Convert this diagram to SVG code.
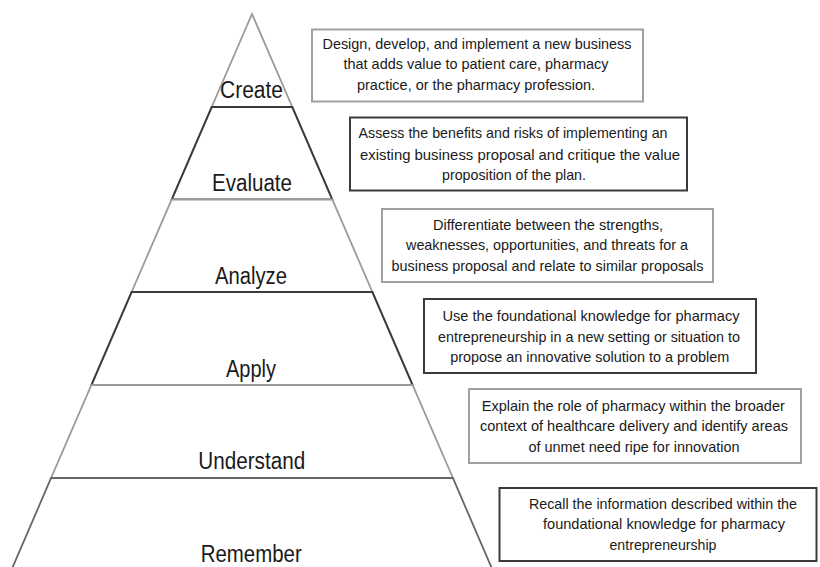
<svg xmlns="http://www.w3.org/2000/svg" width="820" height="567" viewBox="0 0 820 567">
<style>
.lvl{fill:#fff;stroke-linejoin:miter}
.lg{stroke:#9a9a9a;stroke-width:1.8}
.ld{stroke:#3a3a3a;stroke-width:2}
.lm{stroke:#666;stroke-width:1.8}
.lab{font-family:"Liberation Sans",Arial,sans-serif;font-size:23px;fill:#1a1a1a;text-anchor:middle}
.box{fill:#fff}
.bg{stroke:#a0a0a0;stroke-width:2}
.bd{stroke:#3a3a3a;stroke-width:2}
.txt{font-family:"Liberation Sans",Arial,sans-serif;font-size:15px;fill:#1a1a1a;text-anchor:middle}
</style>
<rect width="820" height="567" fill="#fff"/>
<g id="pyramid">
<g id="level-create">
<polygon class="lvl lg" points="252,14 292.3,107 211.7,107"/>
<text class="lab" x="251.5" y="98" textLength="63" lengthAdjust="spacingAndGlyphs">Create</text>
</g>
<g id="level-evaluate">
<polygon class="lvl ld" points="211.7,107 292.3,107 332.3,199.5 171.7,199.5"/>
<text class="lab" x="252" y="191" textLength="80" lengthAdjust="spacingAndGlyphs">Evaluate</text>
</g>
<g id="level-analyze">
<polygon class="lvl lg" points="171.7,199.5 332.3,199.5 372.4,292 131.6,292"/>
<text class="lab" x="251" y="283.5" textLength="72" lengthAdjust="spacingAndGlyphs">Analyze</text>
</g>
<g id="level-apply">
<polygon class="lvl ld" points="131.6,292 372.4,292 412.6,385 91.4,385"/>
<text class="lab" x="251" y="377" textLength="50" lengthAdjust="spacingAndGlyphs">Apply</text>
</g>
<g id="level-understand">
<polygon class="lvl lg" points="91.4,385 412.6,385 452.9,478 51.1,478"/>
<text class="lab" x="251.7" y="469" textLength="107" lengthAdjust="spacingAndGlyphs">Understand</text>
</g>
<g id="level-remember">
<polygon class="lvl lm" points="51.1,478 452.9,478 493,571 11,571"/>
<text class="lab" x="251.2" y="562" textLength="101" lengthAdjust="spacingAndGlyphs">Remember</text>
</g>
</g>
<g id="box-create">
<rect class="box bg" x="312" y="29.5" width="331" height="72"/>
<text class="txt" x="477" y="48.5" textLength="309" lengthAdjust="spacingAndGlyphs">Design, develop, and implement a new business</text>
<text class="txt" x="476" y="69.3" textLength="265" lengthAdjust="spacingAndGlyphs">that adds value to patient care, pharmacy</text>
<text class="txt" x="476" y="90" textLength="238" lengthAdjust="spacingAndGlyphs">practice, or the pharmacy profession.</text>
</g>
<g id="box-evaluate">
<rect class="box bd" x="350" y="117.5" width="337" height="73"/>
<text class="txt" x="513" y="138.3" textLength="309" lengthAdjust="spacingAndGlyphs">Assess the benefits and risks of implementing an</text>
<text class="txt" x="520" y="159.5" textLength="320" lengthAdjust="spacingAndGlyphs">existing business proposal and critique the value</text>
<text class="txt" x="514" y="180" textLength="144" lengthAdjust="spacingAndGlyphs">proposition of the plan.</text>
</g>
<g id="box-analyze">
<rect class="box bg" x="382" y="209" width="331" height="73"/>
<text class="txt" x="548" y="229.5" textLength="230" lengthAdjust="spacingAndGlyphs">Differentiate between the strengths,</text>
<text class="txt" x="547" y="250.3" textLength="282" lengthAdjust="spacingAndGlyphs">weaknesses, opportunities, and threats for a</text>
<text class="txt" x="547.5" y="271" textLength="312" lengthAdjust="spacingAndGlyphs">business proposal and relate to similar proposals</text>
</g>
<g id="box-apply">
<rect class="box bd" x="424" y="299" width="332" height="74"/>
<text class="txt" x="591" y="320.5" textLength="297" lengthAdjust="spacingAndGlyphs">Use the foundational knowledge for pharmacy</text>
<text class="txt" x="589" y="341.5" textLength="302" lengthAdjust="spacingAndGlyphs">entrepreneurship in a new setting or situation to</text>
<text class="txt" x="589.7" y="362" textLength="279" lengthAdjust="spacingAndGlyphs">propose an innovative solution to a problem</text>
</g>
<g id="box-understand">
<rect class="box bg" x="469" y="389" width="332" height="74"/>
<text class="txt" x="633.3" y="410.5" textLength="303" lengthAdjust="spacingAndGlyphs">Explain the role of pharmacy within the broader</text>
<text class="txt" x="634" y="431" textLength="308" lengthAdjust="spacingAndGlyphs">context of healthcare delivery and identify areas</text>
<text class="txt" x="634" y="451.5" textLength="211" lengthAdjust="spacingAndGlyphs">of unmet need ripe for innovation</text>
</g>
<g id="box-remember">
<rect class="box bd" x="499.5" y="488" width="317" height="73"/>
<text class="txt" x="663" y="508.5" textLength="268" lengthAdjust="spacingAndGlyphs">Recall the information described within the</text>
<text class="txt" x="664" y="529" textLength="242" lengthAdjust="spacingAndGlyphs">foundational knowledge for pharmacy</text>
<text class="txt" x="663" y="549.5" textLength="107" lengthAdjust="spacingAndGlyphs">entrepreneurship</text>
</g>
<g id="connectors"/>
</svg>
